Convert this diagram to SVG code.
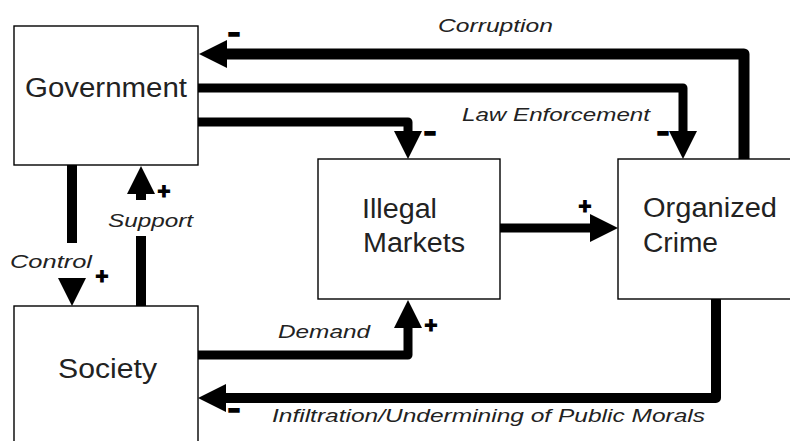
<svg xmlns="http://www.w3.org/2000/svg" width="790" height="441" viewBox="0 0 790 441">
<style>
.box{fill:#fff;stroke:#000;stroke-width:1.4}
.node{font-family:"Liberation Sans",Arial,sans-serif;font-size:27px;fill:#222}
.lbl{font-family:"Liberation Sans",Arial,sans-serif;font-size:19px;font-style:italic;fill:#222}
.sign{font-family:"Liberation Sans",Arial,sans-serif;font-size:22px;font-weight:bold;fill:#000;stroke:#000;stroke-width:1.2;text-anchor:middle}
.minus{font-family:"Liberation Sans",Arial,sans-serif;font-size:26px;font-weight:bold;fill:#000;stroke:#000;stroke-width:1.6}
.conn{fill:none;stroke:#000;stroke-width:9;stroke-linejoin:round}
.bg{fill:#fff}
</style>
<defs>
<marker id="ah" markerUnits="userSpaceOnUse" viewBox="0 -14 28 28" refX="1" refY="0" markerWidth="28" markerHeight="28" orient="auto">
<path d="M0,-14 L28,0 L0,14 Z" fill="#000"/>
</marker>
</defs>
<rect width="790" height="441" fill="#fff"/>
<g id="government"><rect class="box" x="14" y="26" width="184" height="139"/><text class="node" x="25" y="97" textLength="162" lengthAdjust="spacingAndGlyphs">Government</text></g>
<g id="society"><rect class="box" x="14" y="306" width="184" height="150"/><text class="node" x="58" y="378" textLength="99" lengthAdjust="spacingAndGlyphs">Society</text></g>
<g id="illegal-markets"><rect class="box" x="318" y="159" width="182" height="140"/><text class="node" x="362" y="218" textLength="75" lengthAdjust="spacingAndGlyphs">Illegal</text><text class="node" x="363" y="252" textLength="102" lengthAdjust="spacingAndGlyphs">Markets</text></g>
<g id="organized-crime"><rect class="box" x="618" y="159" width="190" height="140"/><text class="node" x="643" y="217" textLength="134" lengthAdjust="spacingAndGlyphs">Organized</text><text class="node" x="643" y="252" textLength="75" lengthAdjust="spacingAndGlyphs">Crime</text></g>
<g id="connectors">
<path class="conn" style="stroke-width:11" d="M744,159 L744,54 L226,54" marker-end="url(#ah)"/>
<path class="conn" d="M198,88 L683,88 L683,132" marker-end="url(#ah)"/>
<path class="conn" d="M198,122 L408,122 L408,132" marker-end="url(#ah)"/>
<path class="conn" d="M500,228 L591,228" marker-end="url(#ah)"/>
<path class="conn" style="stroke-width:10" d="M72,165 L72,279" marker-end="url(#ah)"/>
<path class="conn" style="stroke-width:10" d="M141,306 L141,193" marker-end="url(#ah)"/>
<path class="conn" d="M198,355 L408,355 L408,327" marker-end="url(#ah)"/>
<path class="conn" style="stroke-width:10" d="M716,299 L716,398 L225,398" marker-end="url(#ah)"/>
</g>
<g id="labels">
<rect class="bg" x="5" y="243" width="95" height="35"/>
<rect class="bg" x="104" y="200" width="92" height="36"/>
<text class="lbl" x="438" y="32" textLength="115" lengthAdjust="spacingAndGlyphs">Corruption</text>
<text class="lbl" x="462" y="121" textLength="188" lengthAdjust="spacingAndGlyphs">Law Enforcement</text>
<text class="lbl" x="108" y="227" textLength="85" lengthAdjust="spacingAndGlyphs">Support</text>
<text class="lbl" x="10" y="268" textLength="82" lengthAdjust="spacingAndGlyphs">Control</text>
<text class="lbl" x="278" y="338" textLength="92" lengthAdjust="spacingAndGlyphs">Demand</text>
<text class="lbl" x="272" y="422" textLength="433" lengthAdjust="spacingAndGlyphs">Infiltration/Undermining of Public Morals</text>
<text class="minus" x="228" y="41" textLength="12" lengthAdjust="spacingAndGlyphs">-</text>
<text class="minus" x="424" y="140" textLength="12" lengthAdjust="spacingAndGlyphs">-</text>
<text class="minus" x="657" y="140" textLength="12" lengthAdjust="spacingAndGlyphs">-</text>
<text class="minus" x="228" y="417" textLength="12" lengthAdjust="spacingAndGlyphs">-</text>
<text class="sign" x="585" y="214">+</text>
<text class="sign" x="102" y="284">+</text>
<text class="sign" x="164" y="199">+</text>
<text class="sign" x="431" y="333">+</text>
</g>
</svg>
